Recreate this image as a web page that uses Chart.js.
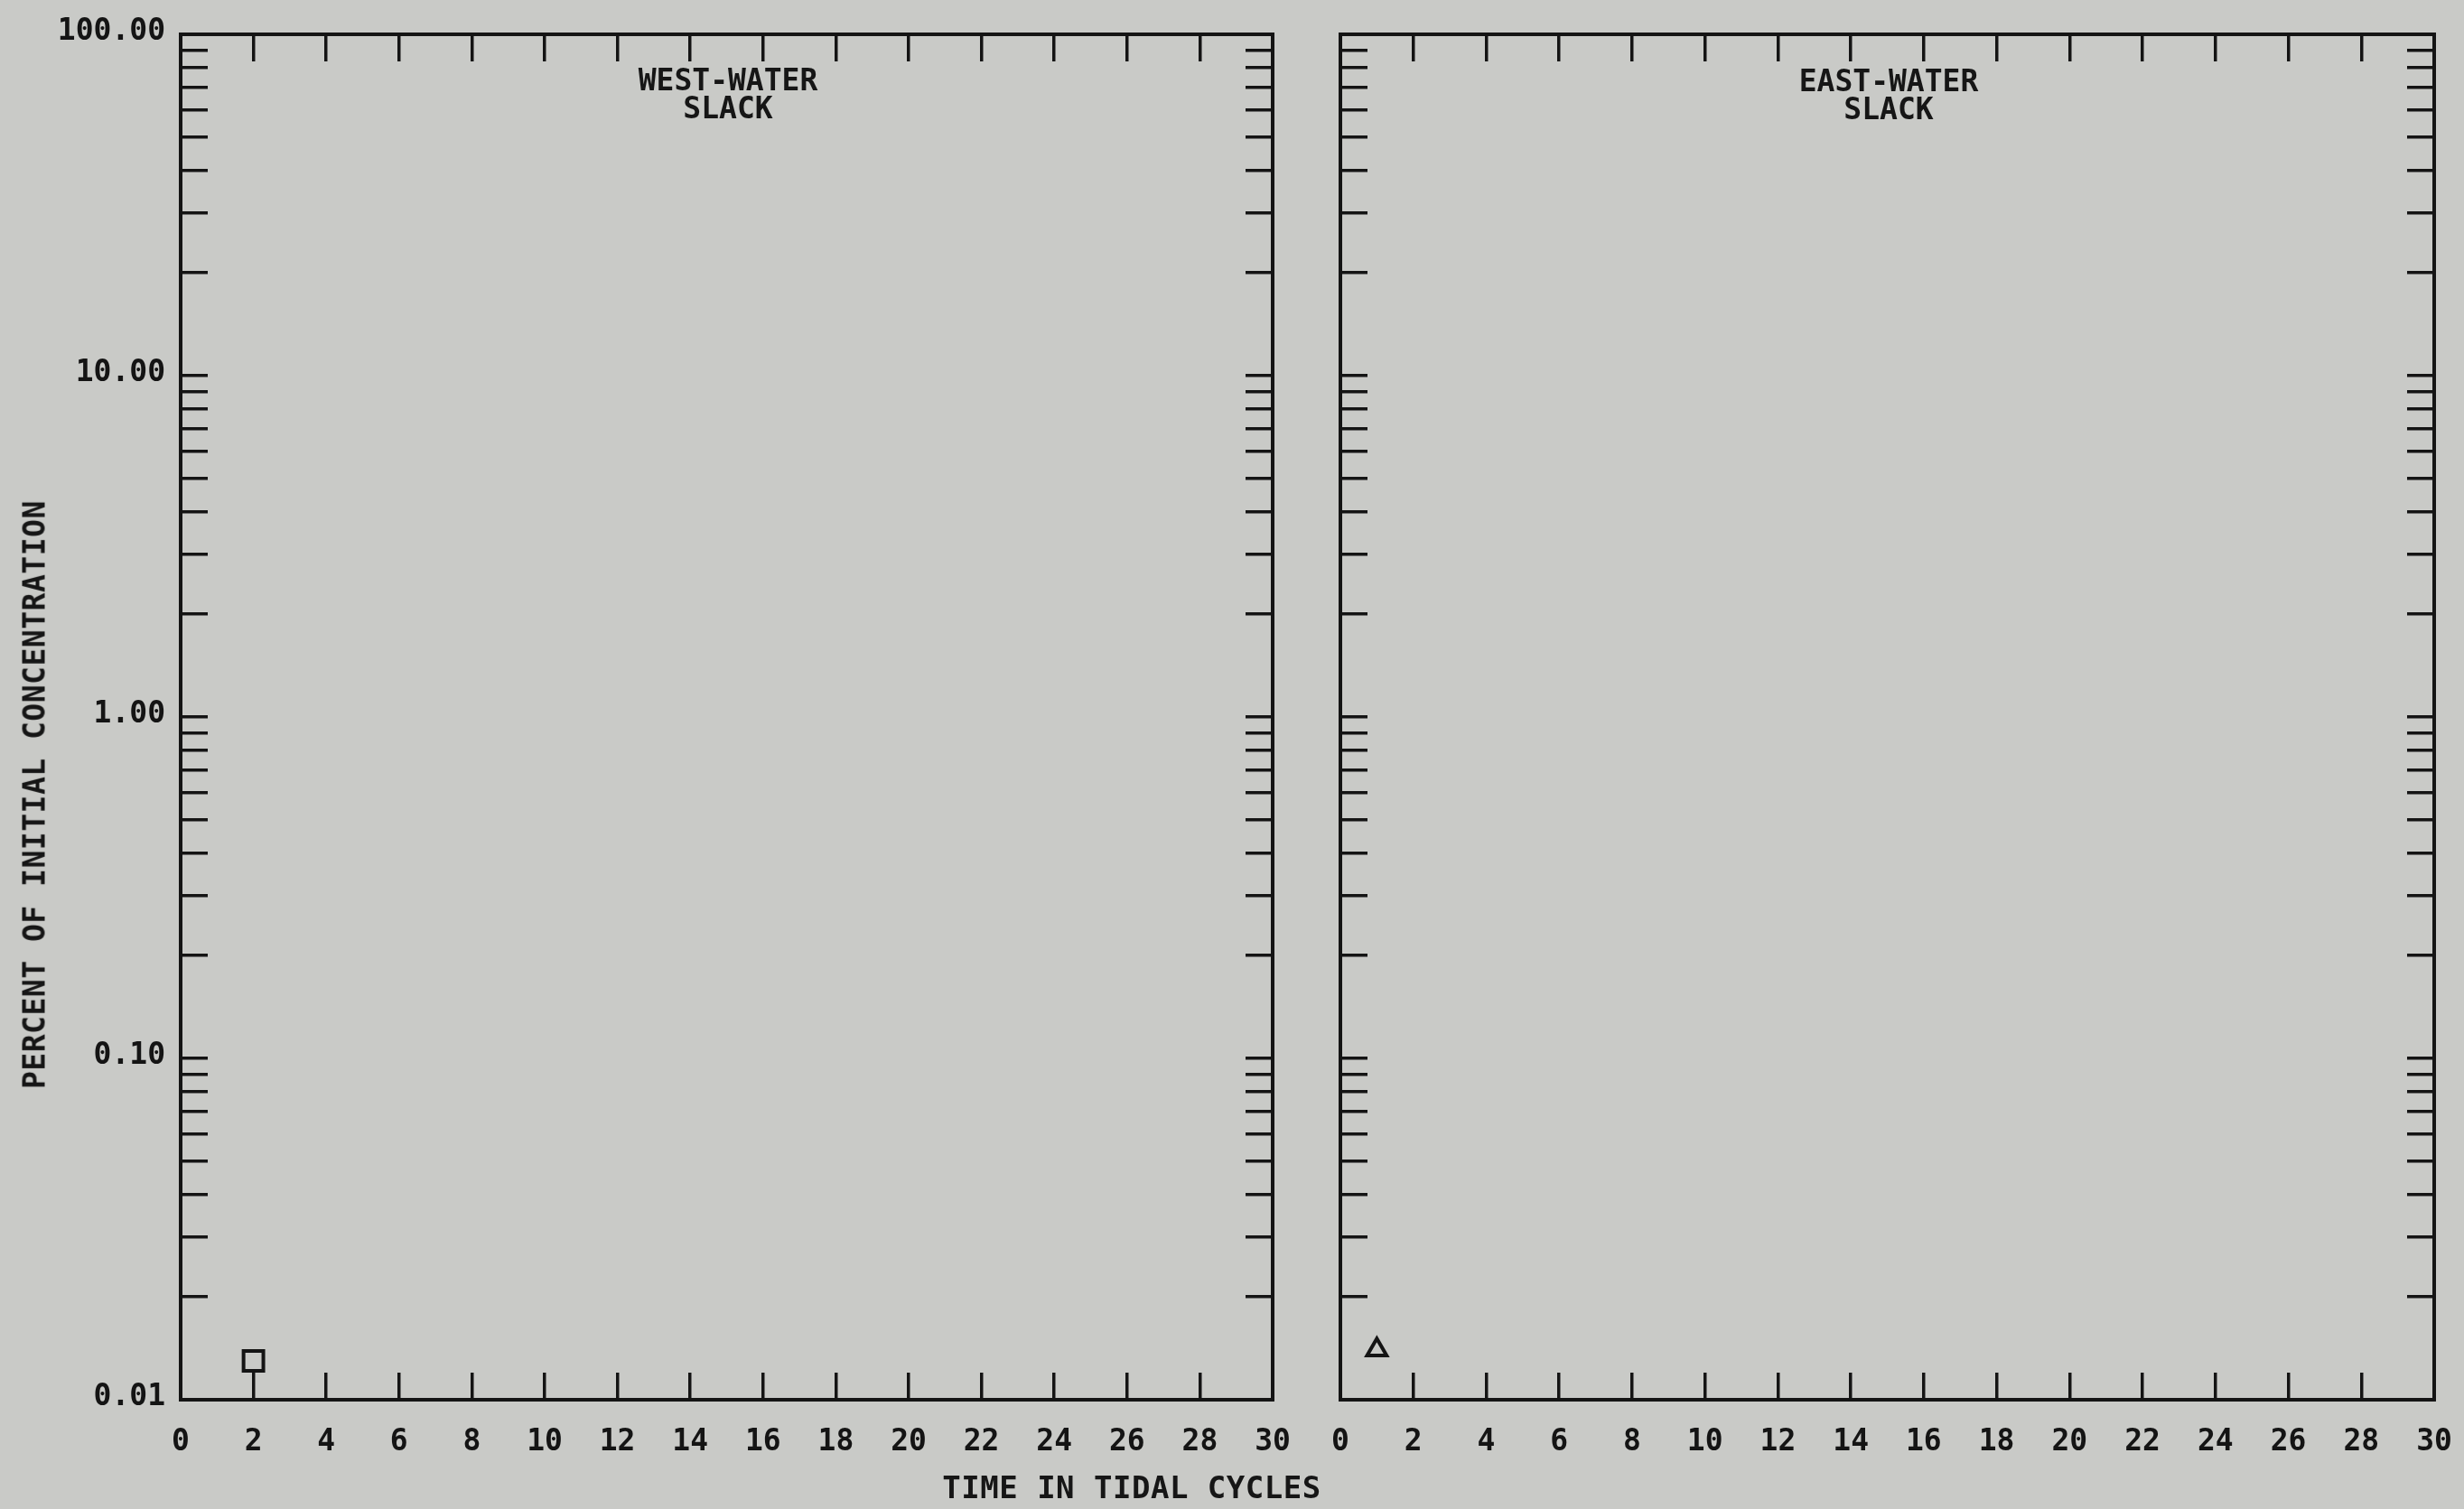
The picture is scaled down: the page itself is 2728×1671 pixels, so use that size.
<!DOCTYPE html>
<html>
<head>
<meta charset="utf-8">
<script src="https://cdn.jsdelivr.net/npm/chart.js@4.4.1/dist/chart.umd.min.js"></script>
<style>
	html, body { margin: 0; padding: 0; }
	body { width: 2728px; height: 1671px; background: #c9cac7; position: relative; overflow: hidden;
		font-family: 'DejaVu Sans Mono', monospace; color: #161616; font-weight: bold; }
	canvas { position: absolute; top: 0; }
	#westChart { left: 0; }
	#eastChart { left: 1440px; }
	.txt { position: absolute; white-space: nowrap; transform: translate(-50%, -50%); }
	.panelTitle { font-size: 33px; line-height: 31px; text-align: center; }
	#yTitle { left: 38px; top: 880px; font-size: 33px; letter-spacing: 0.5px; transform: translate(-50%, -50%) rotate(-90deg); }
	#xTitle { left: 1253px; top: 1647px; font-size: 34px; letter-spacing: 0.5px; }
</style>
</head>
<body>
<canvas id="westChart" width="1440" height="1671"></canvas>
<canvas id="eastChart" width="1288" height="1671"></canvas>

<div class="txt panelTitle" style="left:806px; top:104px;">WEST-WATER<br>SLACK</div>
<div class="txt panelTitle" style="left:2091px; top:105px;">EAST-WATER<br>SLACK</div>
<div class="txt" id="yTitle">PERCENT OF INITIAL CONCENTRATION</div>
<div class="txt" id="xTitle">TIME IN TIDAL CYCLES</div>

<script>
// tidal cycles axis
var xTicks = [0, 2, 4, 6, 8, 10, 12, 14, 16, 18, 20, 22, 24, 26, 28, 30];
var xMin = 0, xMax = 30;

// percent axis (log): labelled decades + minor steps 2..9
var yDecades = [0.01, 0.1, 1, 10, 100];
var yDecadeLabels = ['0.01', '0.10', '1.00', '10.00', '100.00'];
var yMinorSteps = [2, 3, 4, 5, 6, 7, 8, 9];

// observed points
var westCycles = [2];
var westPercent = [0.013];
var eastCycles = [1];
var eastPercent = [0.014];

var ink = '#141414';
var tickFont = { family: 'DejaVu Sans Mono', size: 33, weight: 'bold' };

var yTickValues = [];
for (var d = 0; d < yDecades.length; d++) {
	yTickValues.push(yDecades[d]);
	if (d < yDecades.length - 1) {
		for (var m = 0; m < yMinorSteps.length; m++) {
			yTickValues.push(yDecades[d] * yMinorSteps[m]);
		}
	}
}

function toPoints(xs, ys) {
	var pts = [];
	for (var i = 0; i < xs.length; i++) pts.push({ x: xs[i], y: ys[i] });
	return pts;
}

// fixed box sizes; label overhang padding is dropped so the frame lands where we want it
function noPadding(scale) {
	scale.paddingLeft = scale.paddingRight = scale.paddingTop = scale.paddingBottom = 0;
}
function setWidth(w) { return function(scale) { scale.width = w; noPadding(scale); }; }
function setHeight(h) { return function(scale) { scale.height = h; noPadding(scale); }; }

// inward tick marks on every side of the frame
function frameGrid() {
	return { display: true, drawOnChartArea: false, drawTicks: true, tickLength: -30, color: ink, lineWidth: 3.5 };
}
function frameBorder() {
	return { display: true, color: ink, width: 4 };
}

function xAxis(position, showLabels, size) {
	return {
		type: 'linear', position: position, min: xMin, max: xMax,
		afterBuildTicks: function(s) { s.ticks = xTicks.map(function(v) { return { value: v }; }); },
		afterFit: setHeight(size),
		grid: frameGrid(), border: frameBorder(),
		ticks: { display: showLabels, autoSkip: false, maxRotation: 0, padding: 58, color: ink, font: tickFont,
			callback: function(v) { return String(v); } }
	};
}

function yAxis(position, showLabels, size) {
	return {
		type: 'logarithmic', position: position, min: yDecades[0], max: yDecades[yDecades.length - 1],
		afterBuildTicks: function(s) { s.ticks = yTickValues.map(function(v) { return { value: v }; }); },
		afterFit: setWidth(size),
		grid: frameGrid(), border: frameBorder(),
		ticks: { display: showLabels, autoSkip: false, padding: 47, labelOffset: -3, color: ink, font: tickFont,
			callback: function(v) {
				var i = yDecades.indexOf(v);
				return i >= 0 ? yDecadeLabels[i] : '';
			} }
	};
}

function makePanel(id, points, style, radius, leftWidth, rightWidth) {
	return new Chart(document.getElementById(id), {
		type: 'scatter',
		data: {
			datasets: [{
				data: points,
				xAxisID: 'x', yAxisID: 'y',
				pointStyle: style,
				pointRadius: radius,
				pointHoverRadius: radius,
				pointBorderWidth: 4,
				pointBorderColor: ink,
				pointBackgroundColor: 'rgba(0,0,0,0)'
			}]
		},
		options: {
			responsive: false,
			animation: false,
			layout: { padding: 0 },
			plugins: { legend: { display: false }, tooltip: { enabled: false } },
			scales: {
				x: xAxis('bottom', true, 121),
				xTop: xAxis('top', false, 38),
				y: yAxis('left', leftWidth > 100, leftWidth),
				yRight: yAxis('right', false, rightWidth)
			}
		}
	});
}

var westChart = makePanel('westChart', toPoints(westCycles, westPercent), 'rect', 15.5, 200, 31);
var eastChart = makePanel('eastChart', toPoints(eastCycles, eastPercent), 'triangle', 12.5, 44, 33);
</script>
</body>
</html>
